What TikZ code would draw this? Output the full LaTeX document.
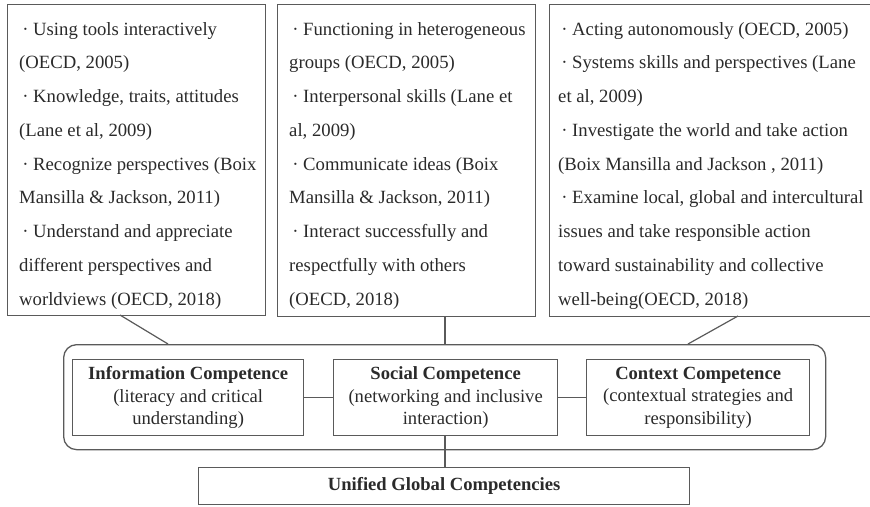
\documentclass[tikz,border=0pt]{standalone}
\usepackage{fontspec}
\setmainfont{Liberation Serif}
\usetikzlibrary{calc}
\definecolor{ln}{HTML}{5A5A5A}
\definecolor{tx}{HTML}{2A2A2A}
\tikzset{
  boxline/.style={draw=ln, line width=1.3pt},
  topbox/.style={boxline, rectangle, inner sep=0pt, anchor=north west},
  listtxt/.style={inner sep=0pt, anchor=base west, text=tx},
  compbox/.style={boxline, rectangle, inner sep=0pt, anchor=north west},
  comptxt/.style={inner sep=0pt, text=tx, align=center, font=\fontsize{18.6}{22.5}\selectfont},
  conn/.style={draw=ln, line width=1.2pt}
}
\newcommand{\listfont}{\fontsize{18.7}{33.75}\selectfont}
\begin{document}
\begin{tikzpicture}[x=1pt,y=-1pt]
\useasboundingbox (0,0) rectangle (870,506);
% top boxes
\node[topbox, minimum width=258, minimum height=311] (b1) at (7,4) {};
\node[topbox, minimum width=258, minimum height=312] (b2) at (277,4) {};
\node[topbox, minimum width=330, minimum height=312] (b3) at (549,4) {};
\node[listtxt] (t1) at (19,35) {\parbox[t]{250pt}{\listfont\raggedright
\,·~Using tools interactively\\
(OECD, 2005)\\
\,·~Knowledge, traits, attitudes\\
(Lane et al, 2009)\\
\,·~Recognize perspectives (Boix\\
Mansilla \& Jackson, 2011)\\
\,·~Understand and appreciate\\
different perspectives and\\
worldviews (OECD, 2018)}};
\node[listtxt] (t2) at (289,35) {\parbox[t]{250pt}{\listfont\raggedright
\,·~Functioning in heterogeneous\\
groups (OECD, 2005)\\
\,·~Interpersonal skills (Lane et\\
al, 2009)\\
\,·~Communicate ideas (Boix\\
Mansilla \& Jackson, 2011)\\
\,·~Interact successfully and\\
respectfully with others\\
(OECD, 2018)}};
\node[listtxt] (t3) at (558,35) {\parbox[t]{310pt}{\listfont\raggedright
\,·~Acting autonomously (OECD, 2005)\\
\,·~Systems skills and perspectives (Lane\\
et al, 2009)\\
\,·~Investigate the world and take action\\
(Boix Mansilla and Jackson , 2011)\\
\,·~Examine local, global and intercultural\\
issues and take responsible action\\
toward sustainability and collective\\
well-being(OECD, 2018)}};
% container
\node[boxline, rectangle, rounded corners=13pt, inner sep=0pt, anchor=north west,
      minimum width=762, minimum height=105] (cont) at (63,344) {};
% competence boxes
\node[compbox, minimum width=231, minimum height=76] (info) at (72,359) {};
\node[compbox, minimum width=224, minimum height=76] (soc) at (333,359) {};
\node[compbox, minimum width=223, minimum height=76] (ctx) at (586,359) {};
\node[comptxt] (infot) at (info.center) {\textbf{Information Competence}\\(literacy and critical\\understanding)};
\node[comptxt] (soct) at (soc.center) {\textbf{Social Competence}\\(networking and inclusive\\interaction)};
\node[comptxt] (ctxt) at (ctx.center) {\textbf{Context Competence}\\(contextual strategies and\\responsibility)};
% unified
\node[compbox, minimum width=491, minimum height=37] (uni) at (198,467) {};
\node[comptxt] (unit) at (uni.center) {\textbf{Unified Global Competencies}};
% connectors
\coordinate (p1) at (120,315);
\coordinate (q1) at (168,344);
\coordinate (p3) at (738,316);
\coordinate (q3) at (688,344);
\draw[conn] (p1) -- (q1);
\draw[conn] (b2.south -| 445,0) -- (cont.north -| 445,0);
\draw[conn] (p3) -- (q3);
\draw[conn] (info.east) -- (soc.west);
\draw[conn] (soc.east) -- (ctx.west);
\draw[conn] (soc.south -| 445,0) -- (uni.north -| 445,0);
\end{tikzpicture}
\end{document}
